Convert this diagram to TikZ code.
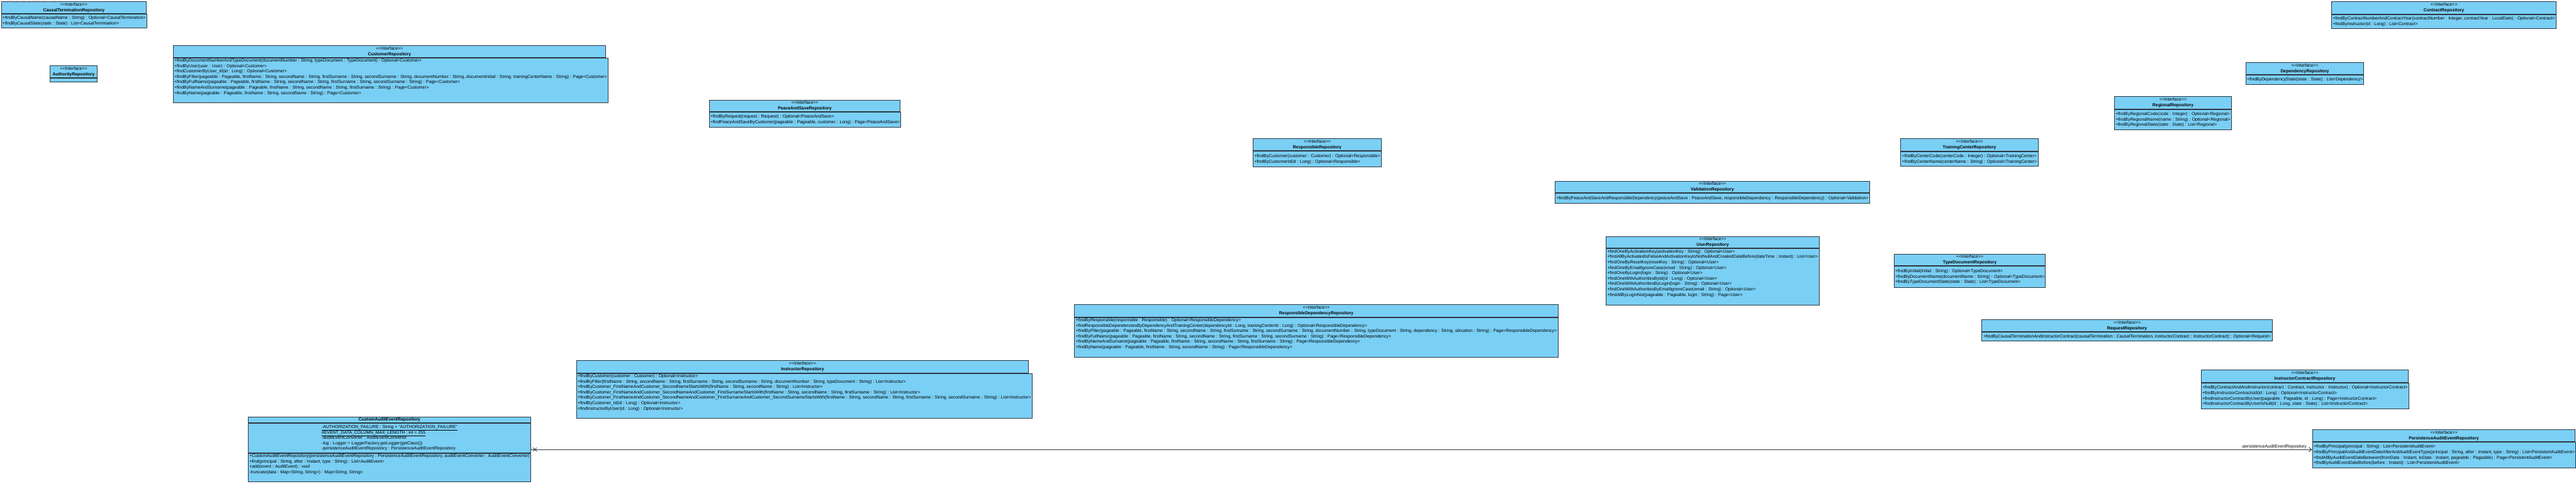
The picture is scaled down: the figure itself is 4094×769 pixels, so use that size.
\documentclass[tikz,border=0pt]{standalone}
\usepackage{fontspec}
\setmainfont{Liberation Sans}
\usetikzlibrary{arrows.meta,fit}
\definecolor{umlfill}{RGB}{122,207,245}
\definecolor{umlline}{RGB}{45,55,65}
\newcommand\iface{<\kern0pt<Interface>\kern0pt>}

\begin{document}
\begin{tikzpicture}[x=1pt,y=-1pt,
    box/.style={draw=umlline,fill=umlfill,line width=1pt,anchor=north west,inner xsep=1.5pt,inner ysep=1pt,
        minimum width=#1,font=\fontsize{6.9}{8.6}\selectfont},
    head/.style={box=#1,minimum height=19,align=center},
    ops/.style={box=#1,align=left},
    wmark/.style={anchor=north west,inner sep=0pt,text=gray,font=\fontsize{4.5}{5}\selectfont},
    assoc/.style={draw=umlline,line width=0.8pt,-{Straight Barb[length=5pt,width=7pt]}}
]
\useasboundingbox[fill=white] (0,0) rectangle (4094,769);

\node[head=230] (causal) at (2,2) {\iface\\\textbf{CausalTerminationRepository}};
\node[ops=230,minimum height=22] (causal ops) at (causal.south west)
    {+findByCausalName(causalName : String) : Optional<CausalTermination>\\
     +findByCausalState(state : State) : List<CausalTermination>};

\node[head=75] (authority) at (79,104) {\iface\\\textbf{AuthorityRepository}};
\node[ops=75,minimum height=6] (authority ops) at (authority.south west) {};

\node[head=687] (customer) at (275,72) {\iface\\\textbf{CustomerRepository}};
\node[ops=687,minimum height=71] (customer ops) at (customer.south west)
    {+findByDocumentNumberAndTypeDocument(documentNumber : String, typeDocument : TypeDocument) : Optional<Customer>\\
     +findByUser(user : User) : Optional<Customer>\\
     +findCustomerByUser\_Id(id : Long) : Optional<Customer>\\
     +findByFilter(pageable : Pageable, firstName : String, secondName : String, firstSurname : String, secondSurname : String, documentNumber : String, documentInitial : String, trainingCenterName : String) : Page<Customer>\\
     +findByFullName(pageable : Pageable, firstName : String, secondName : String, firstSurname : String, secondSurname : String) : Page<Customer>\\
     +findByNameAndSurname(pageable : Pageable, firstName : String, secondName : String, firstSurname : String) : Page<Customer>\\
     +findByName(pageable : Pageable, firstName : String, secondName : String) : Page<Customer>\\[4pt]};

\node[head=303,minimum height=18] (peace) at (1127,159) {\iface\\\textbf{PeaceAndSaveRepository}};
\node[ops=303,minimum height=24] (peace ops) at (peace.south west)
    {+findByRequest(request : Request) : Optional<PeaceAndSave>\\
     +findPeaceAndSaveByCustomer(pageable : Pageable, customer : Long) : Page<PeaceAndSave>};

\node[head=204] (responsible) at (1991,220) {\iface\\\textbf{ResponsibleRepository}};
\node[ops=204,minimum height=25] (responsible ops) at (responsible.south west)
    {+findByCustomer(customer : Customer) : Optional<Responsible>\\
     +findByCustomerId(id : Long) : Optional<Responsible>};

\node[head=500,minimum height=18] (validation) at (2471,288) {\iface\\\textbf{ValidationRepository}};
\node[ops=500,minimum height=16] (validation ops) at (validation.south west)
    {+findByPeaceAndSaveAndResponsibleDependency(peaceAndSave : PeaceAndSave, responsibleDependency : ResponsibleDependency) : Optional<Validation>};

\node[head=219,minimum height=20] (training) at (3020,220) {\iface\\\textbf{TrainingCenterRepository}};
\node[ops=219,minimum height=23] (training ops) at (training.south west)
    {+findByCenterCode(centerCode : Integer) : Optional<TrainingCenter>\\
     +findByCenterName(centerName : String) : Optional<TrainingCenter>};

\node[head=186,minimum height=20] (regional) at (3360,153) {\iface\\\textbf{RegionalRepository}};
\node[ops=186,minimum height=32] (regional ops) at (regional.south west)
    {+findByRegionalCode(code : Integer) : Optional<Regional>\\
     +findByRegionalName(name : String) : Optional<Regional>\\
     +findByRegionalState(state : State) : List<Regional>};

\node[head=187] (dependency) at (3569,99) {\iface\\\textbf{DependencyRepository}};
\node[ops=187,minimum height=15] (dependency ops) at (dependency.south west)
    {+findByDependencyState(state : State) : List<Dependency>};

\node[head=357,minimum height=20] (contract) at (3705,2) {\iface\\\textbf{ContractRepository}};
\node[ops=357,minimum height=22] (contract ops) at (contract.south west)
    {+findByContractNumberAndContractYear(contractNumber : Integer, contractYear : LocalDate) : Optional<Contract>\\
     +findByInstructor(id : Long) : List<Contract>};

\node[head=339,minimum height=18] (user) at (2552,376) {\iface\\\textbf{UserRepository}};
\node[ops=339,minimum height=90] (user ops) at (user.south west)
    {+findOneByActivationKey(activationKey : String) : Optional<User>\\
     +findAllByActivatedIsFalseAndActivationKeyIsNotNullAndCreatedDateBefore(dateTime : Instant) : List<User>\\
     +findOneByResetKey(resetKey : String) : Optional<User>\\
     +findOneByEmailIgnoreCase(email : String) : Optional<User>\\
     +findOneByLogin(login : String) : Optional<User>\\
     +findOneWithAuthoritiesById(id : Long) : Optional<User>\\
     +findOneWithAuthoritiesByLogin(login : String) : Optional<User>\\
     +findOneWithAuthoritiesByEmailIgnoreCase(email : String) : Optional<User>\\
     +findAllByLoginNot(pageable : Pageable, login : String) : Page<User>\\[4pt]};

\node[head=240,minimum height=18] (typedoc) at (3010,404) {\iface\\\textbf{TypeDocumentRepository}};
\node[ops=240,minimum height=34] (typedoc ops) at (typedoc.south west)
    {+findByInitial(initial : String) : Optional<TypeDocument>\\
     +findByDocumentName(documentName : String) : Optional<TypeDocument>\\
     +findByTypeDocumentState(state : State) : List<TypeDocument>};

\node[head=769,minimum height=20] (respdep) at (1707,484) {\iface\\\textbf{ResponsibleDependencyRepository}};
\node[ops=769,minimum height=62] (respdep ops) at (respdep.south west)
    {+findByResponsible(responsible : Responsible) : Optional<ResponsibleDependency>\\
     +findResponsibleDependenciesByDependencyAndTrainingCenter(dependencyId : Long, trainingCenterId : Long) : Optional<ResponsibleDependency>\\
     +findByFilter(pageable : Pageable, firstName : String, secondName : String, firstSurname : String, secondSurname : String, documentNumber : String, typeDocument : String, dependency : String, ubication : String) : Page<ResponsibleDependency>\\
     +findByFullName(pageable : Pageable, firstName : String, secondName : String, firstSurname : String, secondSurname : String) : Page<ResponsibleDependency>\\
     +findByNameAndSurname(pageable : Pageable, firstName : String, secondName : String, firstSurname : String) : Page<ResponsibleDependency>\\
     +findByName(pageable : Pageable, firstName : String, secondName : String) : Page<ResponsibleDependency>\\[4pt]};

\node[head=718,minimum height=20] (instructor) at (916,573) {\iface\\\textbf{InstructorRepository}};
\node[ops=718,minimum height=71] (instructor ops) at (instructor.south west)
    {+findByCustomer(customer : Customer) : Optional<Instructor>\\
     +findByFilter(firstName : String, secondName : String, firstSurname : String, secondSurname : String, documentNumber : String, typeDocument : String) : List<Instructor>\\
     +findByCustomer\_FirstNameAndCustomer\_SecondNameStartsWith(firstName : String, secondName : String) : List<Instructor>\\
     +findByCustomer\_FirstNameAndCustomer\_SecondNameAndCustomer\_FirstSurnameStartsWith(firstName : String, secondName : String, firstSurname : String) : List<Instructor>\\
     +findByCustomer\_FirstNameAndCustomer\_SecondNameAndCustomer\_FirstSurnameAndCustomer\_SecondSurnameStartsWith(firstName : String, secondName : String, firstSurname : String, secondSurname : String) : List<Instructor>\\
     +findByCustomer\_Id(id : Long) : Optional<Instructor>\\
     +findInstructorByUser(id : Long) : Optional<Instructor>\\[4pt]};

\node[head=462] (request) at (3149,508) {\iface\\\textbf{RequestRepository}};
\node[ops=462,minimum height=14] (request ops) at (request.south west)
    {+findByCausalTerminationAndInstructorContract(causalTermination : CausalTermination, instructorContract : InstructorContract) : Optional<Request>};

\node[head=329,minimum height=20] (instcontract) at (3498,588) {\iface\\\textbf{InstructorContractRepository}};
\node[ops=329,minimum height=41] (instcontract ops) at (instcontract.south west)
    {+findByContractAndAndInstructor(contract : Contract, instructor : Instructor) : Optional<InstructorContract>\\
     +findByInstructorContractsId(id : Long) : Optional<InstructorContract>\\
     +findInstructorContractByUser(pageable : Pageable, id : Long) : Page<InstructorContract>\\
     +findInstructorContractByUserIsNull(id : Long, state : State) : List<InstructorContract>};

\node[head=449,minimum height=9] (audit) at (394,663) {\textbf{CustomAuditEventRepository}};
\node[ops=449,minimum height=47] (audit attrs) at (audit.south west)
    {\underline{-AUTHORIZATION\_FAILURE : String = "AUTHORIZATION\_FAILURE"}\\
     \underline{\#EVENT\_DATA\_COLUMN\_MAX\_LENGTH : int = 255}\\
     -auditEventConverter : AuditEventConverter\\
     -log : Logger = LoggerFactory.getLogger(getClass())\\
     -persistenceAuditEventRepository : PersistenceAuditEventRepository};
\node[ops=449,minimum height=44] (audit ops) at (audit attrs.south west)
    {+CustomAuditEventRepository(persistenceAuditEventRepository : PersistenceAuditEventRepository, auditEventConverter : AuditEventConverter)\\
     +find(principal : String, after : Instant, type : String) : List<AuditEvent>\\
     +add(event : AuditEvent) : void\\
     -truncate(data : Map<String, String>) : Map<String, String>\\[4pt]};
\node[fit=(audit)(audit ops),inner sep=0pt] (audit box) {};

\node[head=417] (persistence) at (3675,683) {\iface\\\textbf{PersistenceAuditEventRepository}};
\node[ops=417,minimum height=41] (persistence ops) at (persistence.south west)
    {+findByPrincipal(principal : String) : List<PersistentAuditEvent>\\
     +findByPrincipalAndAuditEventDateAfterAndAuditEventType(principal : String, after : Instant, type : String) : List<PersistentAuditEvent>\\
     +findAllByAuditEventDateBetween(fromDate : Instant, toDate : Instant, pageable : Pageable) : Page<PersistentAuditEvent>\\
     +findByAuditEventDateBefore(before : Instant) : List<PersistentAuditEvent>};
\node[fit=(persistence)(persistence ops),inner sep=0pt] (persistence box) {};

\draw[assoc] (audit box.east) -- (audit box.east -| persistence box.west)
    node[pos=1,anchor=south east,xshift=-8pt,inner sep=0.5pt,font=\fontsize{6.9}{8.6}\selectfont] (role) {-persistenceAuditEventRepository};
\coordinate (nav) at ([xshift=6pt]audit box.east);
\draw[umlline,line width=0.8pt] (nav) +(-3,-3) -- +(3,3) +(-3,3) -- +(3,-3);

\node[wmark] (vp) at (1,1) {Visual Paradigm Standard(Milton Moreno(Sena))};
\end{tikzpicture}
\end{document}
